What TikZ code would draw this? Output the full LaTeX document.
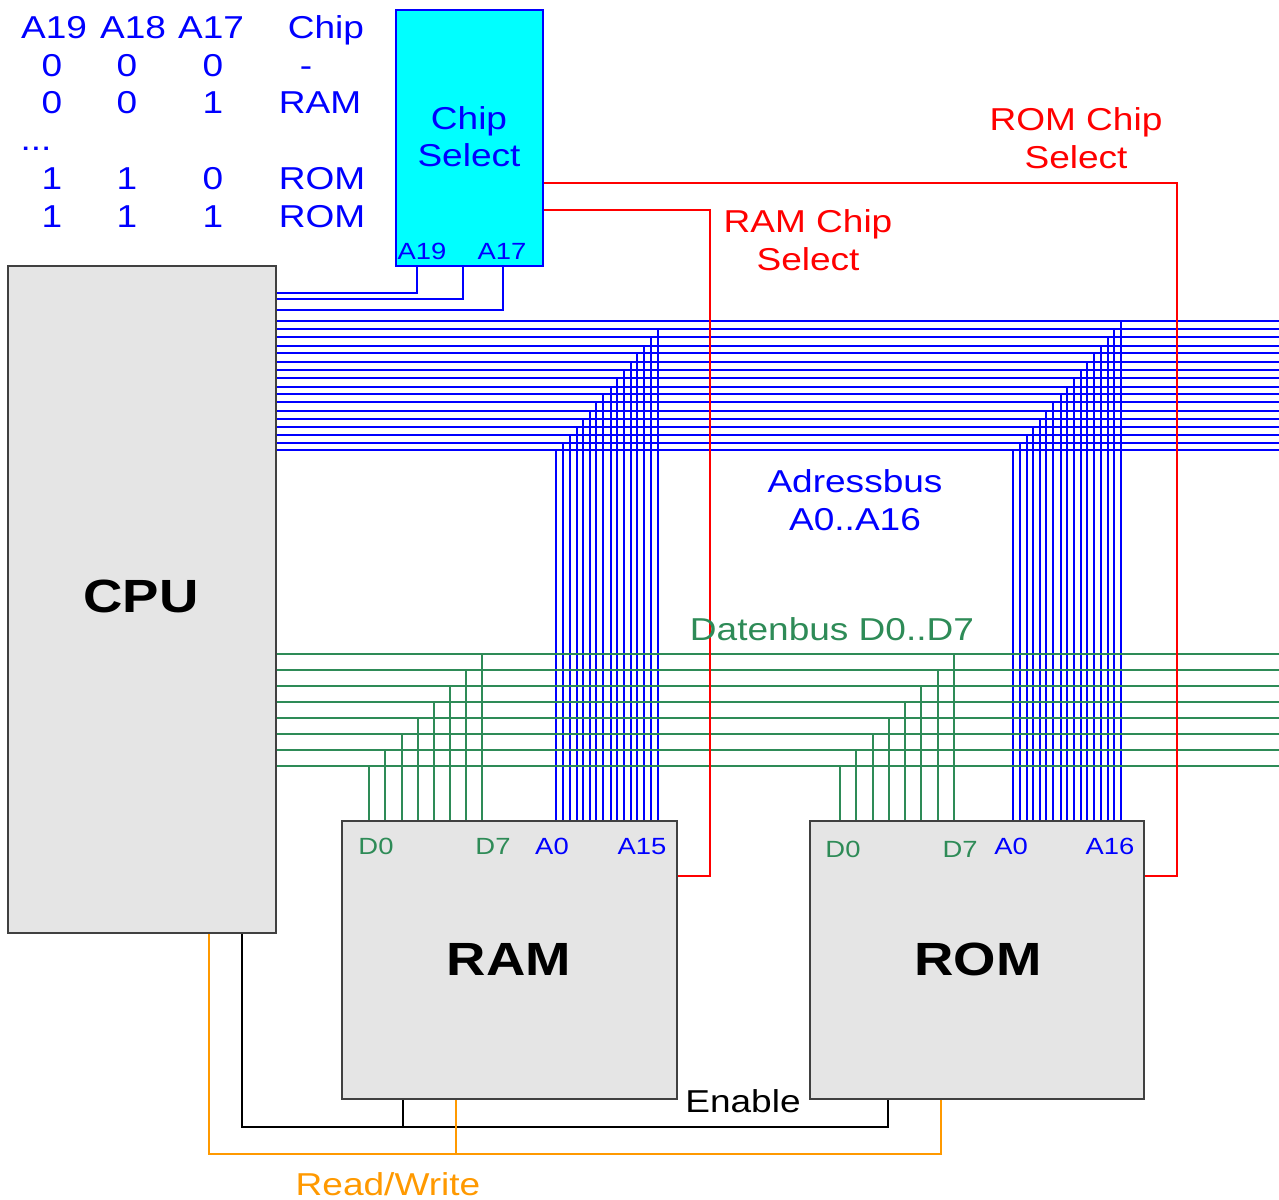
\documentclass[tikz,border=0pt]{standalone}
\usepackage{fontspec}
\setmainfont[FakeStretch=1.17]{Liberation Sans}
\definecolor{datagreen}{RGB}{46,139,87}
\definecolor{rworange}{RGB}{255,153,0}
\definecolor{boxgray}{RGB}{229,229,229}
\definecolor{csfill}{RGB}{0,255,255}
\tikzset{
    unit/.style={draw=black!75, fill=boxgray, line width=0.45pt, inner sep=0pt},
    addr/.style={blue, line width=0.64pt},
    data/.style={datagreen, line width=0.64pt},
    sel/.style={red, line width=0.64pt},
    ctrl/.style={black, line width=0.64pt},
    rw/.style={rworange, line width=0.64pt},
    txt/.style={anchor=base, inner sep=0pt, font=\fontsize{9}{11}\selectfont},
    small/.style={anchor=base, inner sep=0pt, font=\fontsize{6.66}{8}\selectfont},
    big/.style={anchor=base, inner sep=0pt, font=\fontsize{13.25}{16}\selectfont\bfseries},
}
\begin{document}
\begin{tikzpicture}[x=0.01cm,y=-0.01cm]
    \useasboundingbox (0,0) rectangle (1279,1199);
    % boxes first, so the buses can hang on their edges
    \coordinate (cpuc) at (142,599.5);
    \coordinate (ramc) at (509.5,960);
    \coordinate (romc) at (977,960);
    \node[unit, minimum width=2.68cm, minimum height=6.67cm] (cpu) at (cpuc) {};
    \node[unit, minimum width=3.35cm, minimum height=2.78cm] (ram) at (ramc) {};
    \node[unit, minimum width=3.34cm, minimum height=2.78cm] (rom) at (romc) {};
    \node[draw=blue, fill=csfill, line width=0.64pt, inner sep=0pt, minimum width=1.47cm, minimum height=2.56cm] (cs) at (469.5,138) {};
    % adressbus
    \foreach \y [count=\i] in {321,329,337,346,353,362,370,378,387,394,402,411,419,427,435,443,450} {
        \coordinate (busend\i) at (1279,\y);
        \draw[addr] (cpu.east |- busend\i) -- (busend\i);
    }
    \foreach \x/\y in {556/450,563/443,570/435,577/427,583/419,590/411,596/402,603/394,611/387,617/378,624/370,631/362,637/353,644/346,651/337,658/329} {
        \draw[addr] (ram.north -| \x,0) -- (\x,\y);
    }
    \foreach \x/\y in {1013/450,1020/443,1027/435,1033/427,1040/419,1046/411,1053/402,1061/394,1067/387,1074/378,1081/370,1087/362,1094/353,1101/346,1108/337,1114/329,1121/321} {
        \draw[addr] (rom.north -| \x,0) -- (\x,\y);
    }
    % datenbus
    \foreach \y [count=\i] in {654,670,686,702,718,734,750,766} {
        \coordinate (dataend\i) at (1279,\y);
        \draw[data] (cpu.east |- dataend\i) -- (dataend\i);
    }
    \foreach \x/\y in {369/766,385/750,402/734,418/718,434/702,450/686,466/670,482/654} {
        \draw[data] (ram.north -| \x,0) -- (\x,\y);
    }
    \foreach \x/\y in {840/766,856/750,873/734,889/718,905/702,921/686,938/670,954/654} {
        \draw[data] (rom.north -| \x,0) -- (\x,\y);
    }
    % chip select inputs
    \draw[addr] (cpu.east |- 0,293) -| (cs.south -| 417,0);
    \draw[addr] (cpu.east |- 0,299) -| (cs.south -| 463,0);
    \draw[addr] (cpu.east |- 0,310) -| (cs.south -| 503,0);
    % chip select outputs
    \coordinate (ramsel) at (710,876);
    \coordinate (romsel) at (1177,876);
    \draw[sel] (cs.east |- 0,210) -| (ramsel) -- (ram.east |- ramsel);
    \draw[sel] (cs.east |- 0,183) -| (romsel) -- (rom.east |- romsel);
    % enable
    \coordinate (en) at (403,1127);
    \draw[ctrl] (cpu.south -| 242,0) |- (en) -- (ram.south -| en);
    \draw[ctrl] (en) -| (rom.south -| 888,0);
    % read/write
    \coordinate (rwj) at (456,1154);
    \draw[rw] (cpu.south -| 209,0) |- (rwj) -- (ram.south -| rwj);
    \draw[rw] (rwj) -| (rom.south -| 941,0);
    % table
    \node[txt, blue] (ta19) at (54,38) {A19};
    \node[txt, blue] (ta18) at (133,38) {A18};
    \node[txt, blue] (ta17) at (211,38) {A17};
    \node[txt, blue] (tchip) at (326,38) {Chip};
    \node[txt, blue] (r1a) at (52,76) {0};
    \node[txt, blue] (r1b) at (127,76) {0};
    \node[txt, blue] (r1c) at (213,76) {0};
    \node[txt, blue] (r1d) at (306,76) {-};
    \node[txt, blue] (r2a) at (52,113) {0};
    \node[txt, blue] (r2b) at (127,113) {0};
    \node[txt, blue] (r2c) at (213,113) {1};
    \node[txt, blue] (r2d) at (320,113) {RAM};
    \node[txt, blue] (r3a) at (36,150) {...};
    \node[txt, blue] (r4a) at (52,189) {1};
    \node[txt, blue] (r4b) at (127,189) {1};
    \node[txt, blue] (r4c) at (213,189) {0};
    \node[txt, blue] (r4d) at (322,189) {ROM};
    \node[txt, blue] (r5a) at (52,227) {1};
    \node[txt, blue] (r5b) at (127,227) {1};
    \node[txt, blue] (r5c) at (213,227) {1};
    \node[txt, blue] (r5d) at (322,227) {ROM};
    % labels
    \node[txt, blue] (cs1) at (469,129) {Chip};
    \node[txt, blue] (cs2) at (469,166) {Select};
    \node[small, blue] (csa19) at (422,259) {A19};
    \node[small, blue] (csa17) at (502,259) {A17};
    \node[txt, red] (romsel1) at (1076,130) {ROM Chip};
    \node[txt, red] (romsel2) at (1076,168) {Select};
    \node[txt, red] (ramsel1) at (808,232) {RAM Chip};
    \node[txt, red] (ramsel2) at (808,270) {Select};
    \node[txt, blue] (ab1) at (855,492) {Adressbus};
    \node[txt, blue] (ab2) at (855,530) {A0..A16};
    \node[txt, datagreen] (db) at (832,640) {Datenbus D0..D7};
    \node[big] (cpulabel) at (141,612) {CPU};
    \node[big] (ramlabel) at (509,975) {RAM};
    \node[big] (romlabel) at (978,975) {ROM};
    \node[small, datagreen] (ramd0) at (376,854) {D0};
    \node[small, datagreen] (ramd7) at (493,854) {D7};
    \node[small, blue] (rama0) at (552,854) {A0};
    \node[small, blue] (rama15) at (642,854) {A15};
    \node[small, datagreen] (romd0) at (843,857) {D0};
    \node[small, datagreen] (romd7) at (960,857) {D7};
    \node[small, blue] (roma0) at (1011,854) {A0};
    \node[small, blue] (roma16) at (1110,854) {A16};
    \node[txt] (enlabel) at (743,1112) {Enable};
    \node[txt, rworange] (rwlabel) at (388,1195) {Read/Write};
\end{tikzpicture}
\end{document}
